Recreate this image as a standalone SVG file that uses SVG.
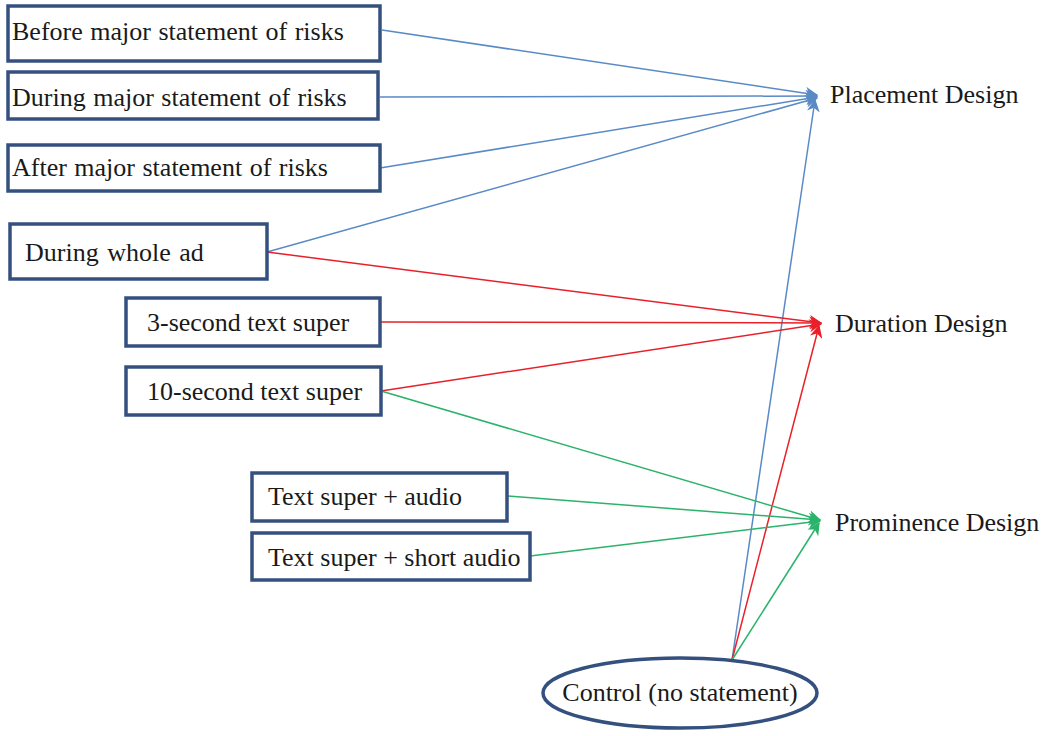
<svg xmlns="http://www.w3.org/2000/svg" width="1050" height="736" viewBox="0 0 1050 736">
<style>
.box{fill:#fff;stroke:#34507f;stroke-width:3.5}
.t{font-family:"Liberation Serif","Times New Roman",serif;font-size:26px;fill:#1a1a1a}
.b{stroke:#5a8ac6;stroke-width:1.5;fill:none}
.r{stroke:#e8202a;stroke-width:1.5;fill:none}
.g{stroke:#2bb36b;stroke-width:1.5;fill:none}
</style>
<defs>
<marker id="mb" viewBox="0 0 10 10" refX="9" refY="5" markerWidth="13" markerHeight="13" markerUnits="userSpaceOnUse" orient="auto"><path d="M0,0 L10,5 L0,10 L3,5 z" fill="#5a8ac6"/></marker>
<marker id="mr" viewBox="0 0 10 10" refX="9" refY="5" markerWidth="13" markerHeight="13" markerUnits="userSpaceOnUse" orient="auto"><path d="M0,0 L10,5 L0,10 L3,5 z" fill="#e8202a"/></marker>
<marker id="mg" viewBox="0 0 10 10" refX="9" refY="5" markerWidth="13" markerHeight="13" markerUnits="userSpaceOnUse" orient="auto"><path d="M0,0 L10,5 L0,10 L3,5 z" fill="#2bb36b"/></marker>
</defs>
<rect width="1050" height="736" fill="#fff"/>
<g id="connectors">
<line class="b" x1="382" y1="30" x2="817" y2="95" marker-end="url(#mb)"/>
<line class="b" x1="380" y1="97" x2="817" y2="96" marker-end="url(#mb)"/>
<line class="b" x1="380" y1="168" x2="817" y2="97" marker-end="url(#mb)"/>
<line class="b" x1="267" y1="252" x2="817" y2="98" marker-end="url(#mb)"/>
<line class="b" x1="732" y1="660" x2="815" y2="100" marker-end="url(#mb)"/>
<line class="r" x1="267" y1="252" x2="821" y2="323" marker-end="url(#mr)"/>
<line class="r" x1="380" y1="322" x2="821" y2="323" marker-end="url(#mr)"/>
<line class="r" x1="381" y1="391" x2="821" y2="324" marker-end="url(#mr)"/>
<line class="r" x1="732" y1="660" x2="819" y2="326" marker-end="url(#mr)"/>
<line class="g" x1="381" y1="391" x2="820" y2="520" marker-end="url(#mg)"/>
<line class="g" x1="507" y1="496" x2="820" y2="520" marker-end="url(#mg)"/>
<line class="g" x1="530" y1="556" x2="820" y2="521" marker-end="url(#mg)"/>
<line class="g" x1="732" y1="660" x2="819" y2="523" marker-end="url(#mg)"/>
</g>
<g id="n1"><rect class="box" x="8" y="6" width="372" height="55"/><text class="t" x="12" y="40" word-spacing="1">Before major statement of risks</text></g>
<g id="n2"><rect class="box" x="8" y="72" width="370" height="47"/><text class="t" x="12" y="106" word-spacing="1">During major statement of risks</text></g>
<g id="n3"><rect class="box" x="8" y="145" width="372" height="46"/><text class="t" x="12" y="176" word-spacing="1">After major statement of risks</text></g>
<g id="n4"><rect class="box" x="10" y="224" width="257" height="55"/><text class="t" x="25" y="261" word-spacing="2">During whole ad</text></g>
<g id="n5"><rect class="box" x="126" y="298" width="254" height="48"/><text class="t" x="147" y="331">3-second text super</text></g>
<g id="n6"><rect class="box" x="126" y="367" width="255" height="48"/><text class="t" x="147" y="400">10-second text super</text></g>
<g id="n7"><rect class="box" x="252" y="473" width="255" height="48"/><text class="t" x="268" y="505">Text super + audio</text></g>
<g id="n8"><rect class="box" x="252" y="533" width="278" height="47"/><text class="t" x="268" y="566">Text super + short audio</text></g>
<g id="n9"><ellipse cx="680" cy="693" rx="137" ry="35" fill="#fff" stroke="#34507f" stroke-width="3.5"/><text class="t" x="680" y="701" text-anchor="middle">Control (no statement)</text></g>
<g id="p1"><text class="t" x="830" y="103">Placement Design</text></g>
<g id="p2"><text class="t" x="835" y="332">Duration Design</text></g>
<g id="p3"><text class="t" x="835" y="531">Prominence Design</text></g>
</svg>
